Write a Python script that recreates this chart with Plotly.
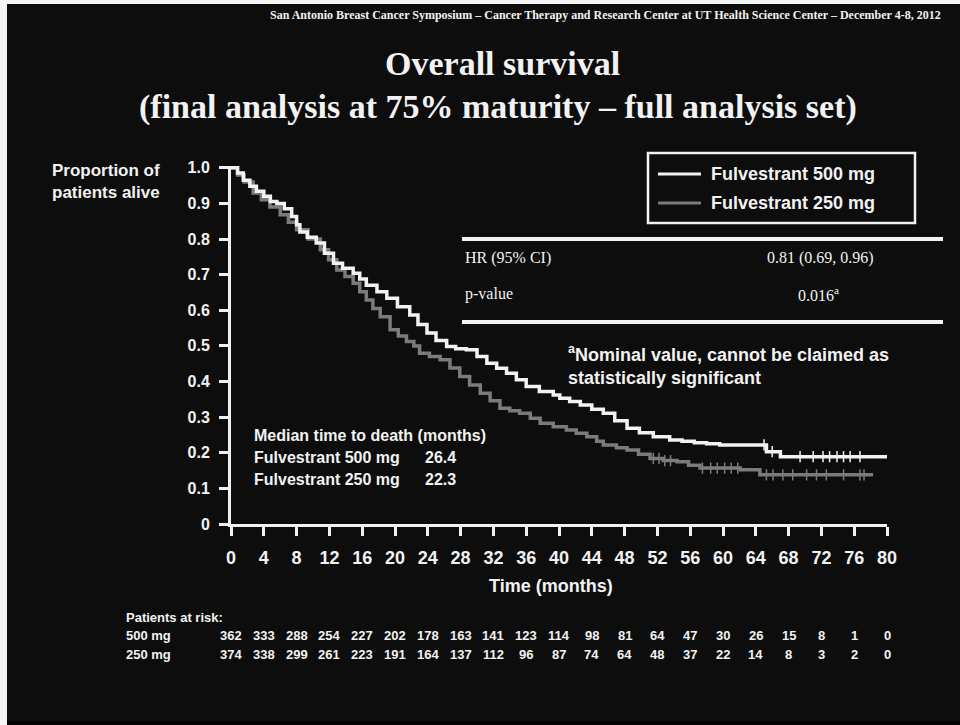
import numpy as np
import plotly.graph_objects as go

# Kaplan-Meier overall survival estimates (months, proportion alive)
months_500 = [0, 0.8, 1.5, 2.3, 3.1, 4.0, 4.8, 5.6, 6.5, 7.4, 8.0, 8.4, 9.3, 10.4, 11.4, 12.5,
              13.6, 14.9, 15.7, 16.5, 17.8, 19.0, 20.3, 21.8, 22.8, 23.9, 25.0, 26.3, 27.4, 28.7,
              30.0, 31.2, 32.4, 33.6, 34.8, 36.0, 37.6, 39.3, 40.1, 41.3, 42.6, 44.0, 45.4, 46.8,
              48.3, 49.8, 51.5, 53.5, 55.0, 56.5, 58.0, 59.6, 64.5, 65.3, 67.0, 80.0]
surv_500 = [1.0, 0.985, 0.965, 0.948, 0.934, 0.92, 0.905, 0.90, 0.885, 0.863, 0.84, 0.82, 0.805,
            0.789, 0.76, 0.732, 0.718, 0.704, 0.688, 0.67, 0.652, 0.634, 0.61, 0.587, 0.56, 0.536,
            0.515, 0.498, 0.492, 0.489, 0.47, 0.451, 0.437, 0.423, 0.405, 0.386, 0.372, 0.362,
            0.353, 0.344, 0.334, 0.322, 0.311, 0.29, 0.269, 0.256, 0.245, 0.236, 0.232, 0.228,
            0.225, 0.222, 0.222, 0.203, 0.189, 0.189]

months_250 = [0, 0.8, 1.6, 2.7, 3.7, 4.75, 6.0, 7.0, 8.0, 9.4, 10.9, 11.9, 12.9, 13.9, 14.9, 15.7,
              16.5, 17.3, 18.2, 19.4, 20.4, 21.4, 22.3, 23.0, 24.2, 25.5, 26.7, 27.9, 29.1, 30.4,
              31.6, 32.8, 34.0, 35.2, 36.5, 37.7, 39.3, 40.9, 42.1, 43.4, 44.6, 45.4, 47.0, 48.3,
              49.7, 51.1, 52.7, 54.4, 55.8, 57.2, 62.1, 64.5, 78.3]
surv_250 = [1.0, 0.98, 0.96, 0.929, 0.91, 0.89, 0.868, 0.847, 0.826, 0.80, 0.77, 0.742, 0.713,
            0.695, 0.676, 0.652, 0.629, 0.605, 0.582, 0.545, 0.528, 0.512, 0.50, 0.479, 0.47,
            0.461, 0.438, 0.414, 0.39, 0.367, 0.346, 0.325, 0.318, 0.311, 0.297, 0.283, 0.273,
            0.264, 0.255, 0.245, 0.232, 0.222, 0.214, 0.208, 0.196, 0.184, 0.178, 0.175, 0.165,
            0.157, 0.152, 0.138, 0.138]

# censoring times
cens_500 = [65.0, 66.0, 69.4, 71.0, 72.2, 73.0, 73.9, 74.7, 75.5, 76.7]
cens_250 = [51.5, 52.2, 52.9, 53.6, 57.5, 58.5, 59.3, 60.2, 61.0, 61.8, 65.3, 66.1, 67.3, 68.5,
            70.2, 71.4, 72.6, 74.7, 76.7, 77.2]

series_names = ["Fulvestrant 500 mg", "Fulvestrant 250 mg"]
risk_labels = ["500 mg", "250 mg"]
x_ticks = list(range(0, 81, 4))
y_ticks = [0, 0.1, 0.2, 0.3, 0.4, 0.5, 0.6, 0.7, 0.8, 0.9, 1.0]
y_tick_text = ["0", "0.1", "0.2", "0.3", "0.4", "0.5", "0.6", "0.7", "0.8", "0.9", "1.0"]
risk_500 = [362, 333, 288, 254, 227, 202, 178, 163, 141, 123, 114, 98, 81, 64, 47, 30, 26, 15, 8, 1, 0]
risk_250 = [374, 338, 299, 261, 223, 191, 164, 137, 112, 96, 87, 74, 64, 48, 37, 22, 14, 8, 3, 2, 0]
median_500 = 26.4
median_250 = 22.3
hr_ci = "0.81 (0.69, 0.96)"
p_value = "0.016"

BG = "#0d0d0d"
WHITE = "#f2f2f2"
GREY = "#7b7b7b"
SANS = "Liberation Sans"
SERIF = "Liberation Serif"

W, H = 960, 725
ML, MR, MT, MB = 231, 73, 166, 201
PW, PH = W - ML - MR, H - MT - MB


def fx(px):
    return (px - ML) / PW


def fy(py):
    return (H - MB - py) / PH


def step_at(ts, ss, t):
    i = np.searchsorted(np.asarray(ts), t, side="right") - 1
    return ss[i]


fig = go.Figure()
curves = [(months_500, surv_500, cens_500, WHITE), (months_250, surv_250, cens_250, GREY)]
for (t, s, c, col), name in zip(curves[::-1], series_names[::-1]):
    fig.add_trace(go.Scatter(x=t, y=s, mode="lines", line=dict(color=col, width=3.5, shape="hv"),
                             name=name, showlegend=False, hoverinfo="skip"))
    fig.add_trace(go.Scatter(x=c, y=[step_at(t, s, v) for v in c], mode="markers",
                             marker=dict(symbol="line-ns", size=8, line=dict(color=col, width=1.5)),
                             showlegend=False, hoverinfo="skip"))

ann = []
shapes = []

# header and title
ann.append(dict(text="<b>San Antonio Breast Cancer Symposium – Cancer Therapy and Research Center at UT Health Science Center – December 4-8, 2012</b>",
                x=fx(943), y=fy(15), xanchor="right", yanchor="middle",
                font=dict(family=SERIF, size=12, color=WHITE)))
ann.append(dict(text="<b>Overall survival</b>", x=fx(502), y=fy(64), xanchor="center", yanchor="middle",
                font=dict(family=SERIF, size=34, color=WHITE)))
ann.append(dict(text="<b>(final analysis at 75% maturity – full analysis set)</b>", x=fx(498), y=fy(107),
                xanchor="center", yanchor="middle", font=dict(family=SERIF, size=34, color=WHITE)))

# axis titles
ann.append(dict(text="<b>Proportion of<br>patients alive</b>", x=fx(50), y=fy(181), xanchor="left",
                yanchor="middle", align="left", font=dict(family=SANS, size=17, color=WHITE)))
ann.append(dict(text="<b>Time (months)</b>", x=fx(551), y=fy(586), xanchor="center", yanchor="middle",
                font=dict(family=SANS, size=18, color=WHITE)))

# legend box
shapes.append(dict(type="rect", xref="paper", yref="paper", x0=fx(648), x1=fx(915), y0=fy(153), y1=fy(223),
                   line=dict(color=WHITE, width=2.5), fillcolor=BG))
for i, (name, col) in enumerate(zip(series_names, [WHITE, GREY])):
    yy = 174 + 29 * i
    shapes.append(dict(type="line", xref="paper", yref="paper", x0=fx(658), x1=fx(701), y0=fy(yy), y1=fy(yy),
                       line=dict(color=col, width=3)))
    ann.append(dict(text=f"<b>{name}</b>", x=fx(709), y=fy(yy), xanchor="left", yanchor="middle",
                    font=dict(family=SANS, size=18, color=WHITE)))

# hazard ratio table
for yy in (239, 322):
    shapes.append(dict(type="line", xref="paper", yref="paper", x0=fx(462), x1=fx(943), y0=fy(yy), y1=fy(yy),
                       line=dict(color=WHITE, width=4)))
ann.append(dict(text="HR (95% CI)", x=fx(463), y=fy(258), xanchor="left", yanchor="middle",
                font=dict(family=SERIF, size=16, color=WHITE)))
ann.append(dict(text=hr_ci, x=fx(820), y=fy(258), xanchor="center", yanchor="middle",
                font=dict(family=SERIF, size=16, color=WHITE)))
ann.append(dict(text="p-value", x=fx(463), y=fy(294), xanchor="left", yanchor="middle",
                font=dict(family=SERIF, size=16, color=WHITE)))
ann.append(dict(text=f"{p_value}<sup>a</sup>", x=fx(818), y=fy(294), xanchor="center", yanchor="middle",
                font=dict(family=SERIF, size=16, color=WHITE)))
ann.append(dict(text="<b><sup>a</sup>Nominal value, cannot be claimed as<br>statistically significant</b>",
                x=fx(566), y=fy(365), xanchor="left", yanchor="middle", align="left",
                font=dict(family=SANS, size=18, color=WHITE)))

# medians
ann.append(dict(text="<b>Median time to death (months)</b>", x=fx(252), y=fy(435), xanchor="left",
                yanchor="middle", font=dict(family=SANS, size=16, color=WHITE)))
for i, (name, med) in enumerate(zip(series_names, [median_500, median_250])):
    yy = 457 + 22 * i
    ann.append(dict(text=f"<b>{name}</b>", x=fx(252), y=fy(yy), xanchor="left", yanchor="middle",
                    font=dict(family=SANS, size=16, color=WHITE)))
    ann.append(dict(text=f"<b>{med}</b>", x=fx(423), y=fy(yy), xanchor="left", yanchor="middle",
                    font=dict(family=SANS, size=16, color=WHITE)))

# patients at risk
ann.append(dict(text="<b>Patients at risk:</b>", x=fx(124), y=fy(617), xanchor="left", yanchor="middle",
                font=dict(family=SANS, size=13, color=WHITE)))
for i, (lab, row) in enumerate(zip(risk_labels, [risk_500, risk_250])):
    yy = 635 + 19 * i
    ann.append(dict(text=f"<b>{lab}</b>", x=fx(124), y=fy(yy), xanchor="left", yanchor="middle",
                    font=dict(family=SANS, size=13, color=WHITE)))
    for t, n in zip(x_ticks, row):
        ann.append(dict(text=f"<b>{n}</b>", x=t, xref="x", y=fy(yy), xanchor="center", yanchor="middle",
                        font=dict(family=SANS, size=13, color=WHITE)))

for a in ann:
    a.setdefault("xref", "paper")
    a.setdefault("yref", "paper")
    a["showarrow"] = False

# slide frame edges
shapes.append(dict(type="rect", xref="paper", yref="paper", x0=fx(0), x1=fx(7), y0=fy(0), y1=fy(725),
                   line=dict(width=0), fillcolor="#f4f4f4", layer="below"))
shapes.append(dict(type="rect", xref="paper", yref="paper", x0=fx(0), x1=fx(960), y0=fy(0), y1=fy(4),
                   line=dict(width=0), fillcolor="#f4f4f4", layer="below"))
shapes.append(dict(type="rect", xref="paper", yref="paper", x0=fx(7), x1=fx(960), y0=fy(721), y1=fy(725),
                   line=dict(width=0), fillcolor="#000000", layer="below"))

fig.update_layout(
    width=W, height=H, margin=dict(l=ML, r=MR, t=MT, b=MB),
    paper_bgcolor=BG, plot_bgcolor=BG, showlegend=False,
    annotations=ann, shapes=shapes,
    xaxis=dict(range=[0, 80], tickvals=x_ticks, ticks="outside", ticklen=9, tickwidth=3, tickcolor=WHITE,
               showline=True, linecolor=WHITE, linewidth=3, showgrid=False, zeroline=False,
               ticklabelstandoff=6, tickfont=dict(family=SANS, size=18, color=WHITE, weight="bold")),
    yaxis=dict(range=[0, 1.005], tickvals=y_ticks, ticktext=y_tick_text, ticks="outside", ticklen=9,
               tickwidth=3, tickcolor=WHITE, showline=True, linecolor=WHITE, linewidth=3, showgrid=False,
               zeroline=False, ticklabelstandoff=6,
               tickfont=dict(family=SANS, size=16, color=WHITE, weight="bold")),
)

fig.write_html("out.html")
